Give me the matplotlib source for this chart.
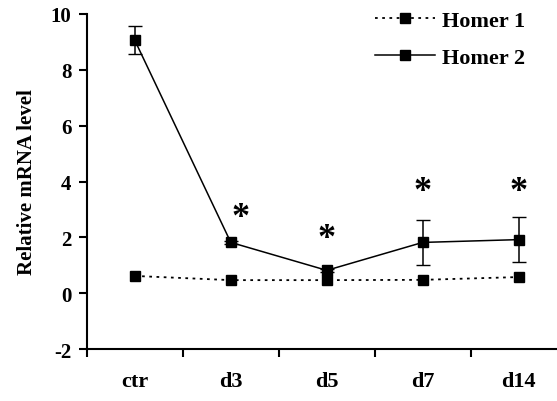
import numpy as np
import matplotlib
matplotlib.use('Agg')
import matplotlib.pyplot as plt

categories = ['ctr', 'd3', 'd5', 'd7', 'd14']
homer1 = [0.62, 0.47, 0.47, 0.48, 0.58]
homer2 = [9.05, 1.82, 0.82, 1.82, 1.92]
homer2_err = [0.5, 0.05, 0.05, 0.82, 0.8]
star_y = [None, 2.7, 1.95, 3.65, 3.65]

plt.rcParams['font.family'] = 'Liberation Serif'
plt.rcParams['font.weight'] = 'bold'
plt.rcParams['axes.unicode_minus'] = False

fig = plt.figure(figsize=(5.57, 4.02), dpi=100)
ax = fig.add_axes([0.156, 0.129, 0.844, 0.834])

x = np.arange(len(categories))
l1, = ax.plot(x, homer1, linestyle=(0, (1.5, 2.5)), color='black', lw=1.3,
              marker='s', markersize=6.5, label='Homer 1')
ax.errorbar(x, homer2, yerr=homer2_err, color='black', fmt='none',
            capsize=5, elinewidth=1.1)
l2, = ax.plot(x, homer2, color='black', lw=1.1, marker='s', markersize=6.5,
              label='Homer 2')

# significance stars
for i, sy in enumerate(star_y):
    if sy is None:
        continue
    dx = 0.1 if i == 1 else 0
    ax.text(x[i] + dx, sy, '*', ha='center', va='center',
            fontsize=26, fontweight='bold')

ax.set_xlim(-0.5, 4.4)
ax.set_ylim(-2, 10)
ax.set_yticks([-2, 0, 2, 4, 6, 8, 10])
ax.set_xticks(x)
ax.set_xticklabels(categories, fontsize=16, fontweight='bold')
ax.set_xticks(np.arange(-0.5, 4.5, 1), minor=True)
ax.tick_params(axis='x', which='major', length=0, pad=16)
ax.tick_params(axis='x', which='minor', length=6, width=1.5, direction='out')
ax.tick_params(axis='y', length=6, width=1.5, labelsize=15, pad=5)
for lab in ax.get_yticklabels():
    lab.set_fontweight('bold')

ax.spines['top'].set_visible(False)
ax.spines['right'].set_visible(False)
ax.spines['left'].set_linewidth(1.5)
ax.spines['bottom'].set_linewidth(1.5)

ax.set_ylabel('Relative mRNA level', fontsize=15, fontweight='bold', labelpad=10)

ax.legend(handles=[l1, l2], loc='upper right', bbox_to_anchor=(0.974, 1.07),
          frameon=False, handlelength=2.7, handletextpad=0.3, labelspacing=0.75,
          prop={'size': 16, 'weight': 'bold'})

fig.savefig('out.png', dpi=100)
